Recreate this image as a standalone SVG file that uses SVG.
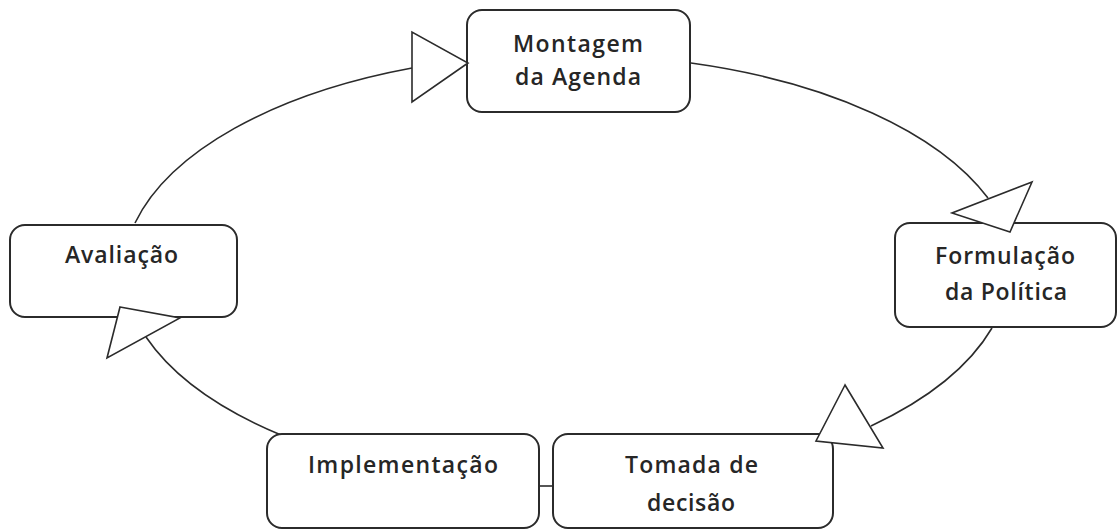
<svg xmlns="http://www.w3.org/2000/svg" width="1118" height="530" viewBox="0 0 1118 530">
  <style>
    .box { fill: #ffffff; stroke: #2b2b2b; stroke-width: 2; }
    .lbl { font-family: "Open Sans", "Liberation Sans", sans-serif; font-size: 23px; font-weight: 600; fill: #262626; }
    .edge { fill: none; stroke: #2b2b2b; stroke-width: 1.6; }
    .head { fill: #ffffff; stroke: #2b2b2b; stroke-width: 1.6; stroke-linejoin: miter; }
  </style>
  <rect width="1118" height="530" fill="#ffffff"/>
  <g id="connectors">
    <path class="edge" d="M135,223 A445,220 0 0 1 412,68"/>
    <path class="edge" d="M691,63 A445,220 0 0 1 988,198"/>
    <path class="edge" d="M992,328 A445,220 0 0 1 871,426"/>
    <path class="edge" d="M146,337 A445,220 0 0 0 281,435"/>
    <path class="edge" d="M539,486 H553"/>
  </g>
  <g id="node-montagem">
    <rect class="box" x="467" y="10" width="223" height="102" rx="15"/>
    <text class="lbl" x="513" y="52" textLength="130" lengthAdjust="spacing">Montagem</text>
    <text class="lbl" x="515" y="85" textLength="126" lengthAdjust="spacing">da Agenda</text>
  </g>
  <g id="node-formulacao">
    <rect class="box" x="895" y="223" width="221" height="104" rx="15"/>
    <text class="lbl" x="935" y="264" textLength="140" lengthAdjust="spacing">Formulação</text>
    <text class="lbl" x="945" y="300" textLength="122" lengthAdjust="spacing">da Política</text>
  </g>
  <g id="node-avaliacao">
    <rect class="box" x="10" y="225" width="227" height="92" rx="15"/>
    <text class="lbl" x="65" y="263" textLength="113" lengthAdjust="spacing">Avaliação</text>
  </g>
  <g id="node-implementacao">
    <rect class="box" x="267" y="434" width="272" height="94" rx="15"/>
    <text class="lbl" x="308" y="473" textLength="190" lengthAdjust="spacing">Implementação</text>
  </g>
  <g id="node-tomada">
    <rect class="box" x="553" y="434" width="280" height="94" rx="15"/>
    <text class="lbl" x="625" y="473" textLength="133" lengthAdjust="spacing">Tomada de</text>
    <text class="lbl" x="647" y="511" textLength="88" lengthAdjust="spacing">decisão</text>
  </g>
  <g id="arrowheads">
    <polygon class="head" points="412,32 412,102 468,63"/>
    <polygon class="head" points="1032,182 952,213 1010,232"/>
    <polygon class="head" points="845,385 816,441 883,448"/>
    <polygon class="head" points="120,307 180,318 107,358"/>
  </g>
</svg>
